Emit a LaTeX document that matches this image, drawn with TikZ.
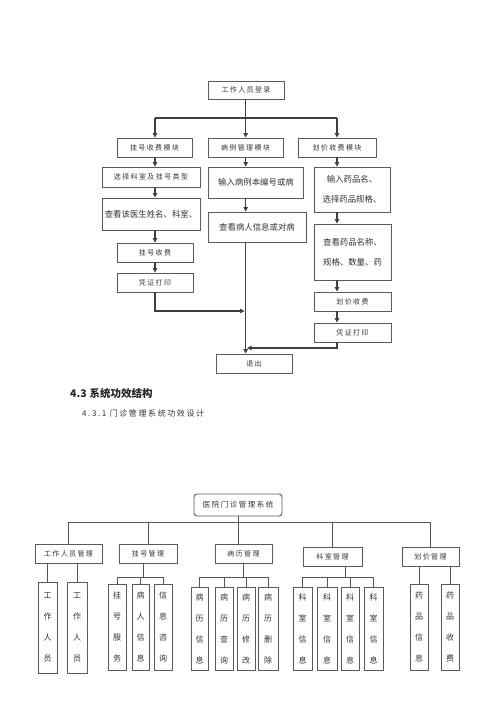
\documentclass[tikz,border=0pt]{standalone}
\usepackage{fontspec}
\setmainfont{Liberation Serif}
\newfontfamily\cjk{Noto Sans CJK SC}
\newfontfamily\cjksp[LetterSpace=20]{Noto Sans CJK SC}
\usetikzlibrary{arrows.meta}
\definecolor{txtc}{HTML}{333333}
\definecolor{boxc}{HTML}{5A5A5A}
\definecolor{linec}{HTML}{404040}
\definecolor{linecb}{HTML}{555555}
\begin{document}
\begin{tikzpicture}[x=1pt,y=-1pt,
  bx/.style={draw=boxc, line width=0.9pt, inner sep=0pt, text=txtc},
  sz/.style 2 args={minimum width=#1pt, minimum height=#2pt},
  sm/.style={font=\cjksp\fontsize{7}{9}\selectfont},
  bg/.style={font=\cjk\fontsize{8.4}{20}\selectfont, align=center},
  vt/.style={font=\cjk\fontsize{8}{21}\selectfont, align=center},
  arr/.style={draw=linec, line width=1.2pt, -{Triangle[length=4.5pt,width=4.5pt]}},
  tl/.style={draw=linec, line width=1.2pt},
  lnb/.style={draw=linecb, line width=0.8pt}]
\fill[white] (0,0) rectangle (500,707);
\useasboundingbox (0,0) rectangle (500,707);

% ---------- top flowchart ----------
\node[bx,sm,sz={76}{18}] (login) at (246,90) {工作人员登录};
\node[bx,sm,sz={75}{19}] (m1) at (154.5,147.5) {挂号收费模块};
\node[bx,sm,sz={75}{19}] (m2) at (245.5,147.5) {病例管理模块};
\node[bx,sm,sz={78}{19}] (m3) at (337,147.5) {划价收费模块};
\node[bx,sm,sz={98}{20}] (l1) at (151,177) {选择科室及挂号类型};
\node[bx,bg,sz={98}{32}] (l2) at (151,214) {查看该医生姓名、科室、};
\node[bx,sm,sz={76}{19}] (l3) at (155,252.5) {挂号收费};
\node[bx,sm,sz={76}{19}] (l4) at (155,282.5) {凭证打印};
\node[bx,bg,sz={95}{31}] (c1) at (256,182.5) {输入病例本编号或病};
\node[bx,bg,sz={98}{30}] (c2) at (257,227) {查看病人信息或对病};
\node[bx,bg,sz={76}{45}] (r1) at (352,189.5) {输入药品名、\\选择药品规格、};
\node[bx,bg,sz={77}{56}] (r2) at (352.5,252) {查看药品名称、\\规格、数量、药};
\node[bx,sm,sz={77}{19}] (r3) at (352.5,301.5) {划价收费};
\node[bx,sm,sz={77}{19}] (r4) at (352.5,332.5) {凭证打印};
\node[bx,sm,sz={76}{19}] (ex) at (254,363.5) {退出};

\coordinate (colL) at (155,0);
\coordinate (colC) at (245.7,0);
\coordinate (colR) at (337,0);
\coordinate (jt) at (245.7,118);
\coordinate (jl) at (244.5,311);
\coordinate (jr) at (247,348);

\draw[tl] (login.south -| colC) -- (jt);
\draw[tl] (jt -| colL) -- (jt -| colR);
\draw[arr] (jt -| colL) -- (m1.north -| colL);
\draw[arr] (jt) -- (m2.north -| colC);
\draw[arr] (jt -| colR) -- (m3.north -| colR);
\draw[arr] (m1.south -| colL) -- (l1.north -| colL);
\draw[arr] (l1.south -| colL) -- (l2.north -| colL);
\draw[arr] (l2.south -| colL) -- (l3.north -| colL);
\draw[arr] (l3.south -| colL) -- (l4.north -| colL);
\draw[arr] (m2.south -| colC) -- (c1.north -| colC);
\draw[arr] (c1.south -| colC) -- (c2.north -| colC);
\draw[arr] (m3.south -| colR) -- (r1.north -| colR);
\draw[arr] (r1.south -| colR) -- (r2.north -| colR);
\draw[arr] (r2.south -| colR) -- (r3.north -| colR);
\draw[arr] (r3.south -| colR) -- (r4.north -| colR);
\draw[arr] (l4.south -| colL) |- (jl);
\draw[arr] (c2.south -| colC) -- (ex.north -| colC);
\draw[arr] (r4.south -| colR) |- (jr);

% ---------- headings ----------
\node[anchor=west, inner sep=0pt, text=black!85, font=\cjk\bfseries\fontsize{10.5}{12}\selectfont] (sec) at (70,393) {4.3\hspace{3pt}系统功效结构};
\node[anchor=west, inner sep=0pt, text=txtc, font=\cjksp\fontsize{8}{10}\selectfont] (sub) at (82,413) {4.3.1 门诊管理系统功效设计};

% ---------- lower tree ----------
\node[bx, rounded corners=3pt, font=\cjksp\fontsize{7.5}{9}\selectfont, sz={88}{22}] (root) at (238,505) {医院门诊管理系统};
\node[bx,sm,sz={67}{19}] (g1) at (68.5,553.5) {工作人员管理};
\node[bx,sm,sz={58}{19}] (g2) at (148,553.5) {挂号管理};
\node[bx,sm,sz={57}{19}] (g3) at (243.5,553.5) {病历管理};
\node[bx,sm,sz={59}{19}] (g4) at (332.5,556.5) {科室管理};
\node[bx,sm,sz={57}{19}] (g5) at (430.5,556.5) {划价管理};

\node[bx,vt,sz={19}{91}] (w1) at (47.5,627.5) {工\\作\\人\\员};
\node[bx,vt,sz={20}{91}] (w2) at (77,627.5) {工\\作\\人\\员};
\node[bx,vt,sz={18}{86}] (h1) at (117,627) {挂\\号\\服\\务};
\node[bx,vt,sz={17}{86}] (h2) at (140.5,627) {病\\人\\信\\息};
\node[bx,vt,sz={18}{86}] (h3) at (163,627) {信\\息\\咨\\询};
\node[bx,vt,sz={17}{83}] (b1) at (199.5,628.5) {病\\历\\信\\息};
\node[bx,vt,sz={18}{83}] (b2) at (224,628.5) {病\\历\\查\\询};
\node[bx,vt,sz={18}{83}] (b3) at (246,628.5) {病\\历\\修\\改};
\node[bx,vt,sz={20}{83}] (b4) at (268,628.5) {病\\历\\删\\除};
\node[bx,vt,sz={19}{83}] (k1) at (302.5,628.5) {科\\室\\信\\息};
\node[bx,vt,sz={20}{83}] (k2) at (327,628.5) {科\\室\\信\\息};
\node[bx,vt,sz={18}{83}] (k3) at (350,628.5) {科\\室\\信\\息};
\node[bx,vt,sz={19}{83}] (k4) at (373.5,628.5) {科\\室\\信\\息};
\node[bx,vt,sz={18}{86}] (y1) at (419,627) {药\\品\\信\\息};
\node[bx,vt,sz={18}{86}] (y2) at (450,627) {药\\品\\收\\费};

\coordinate (hz) at (0,522);
\coordinate (jy) at (0,577);
\coordinate (j2) at (143,577);
\coordinate (j4) at (345,577);

\draw[lnb] (root.south) -- (hz -| root.south);
\draw[lnb] (hz -| g1.north) -- (hz -| g5.north);
\draw[lnb] (hz -| g1.north) -- (g1.north);
\draw[lnb] (hz -| g2.north) -- (g2.north);
\draw[lnb] (hz -| root.south) -- (g3.north -| root.south);
\draw[lnb] (hz -| g4.north) -- (g4.north);
\draw[lnb] (hz -| g5.north) -- (g5.north);

\draw[lnb] (g1.south -| w1.north) -- (w1.north);
\draw[lnb] (g1.south -| w2.north) -- (w2.north);

\draw[lnb] (g2.south -| j2) -- (j2);
\draw[lnb] (jy -| h1.north) -- (jy -| h3.north);
\foreach \n in {h1,h2,h3} \draw[lnb] (jy -| \n.north) -- (\n.north);

\draw[lnb] (g3.south) -- (jy -| g3.south);
\draw[lnb] (jy -| b1.north) -- (jy -| b4.north);
\foreach \n in {b1,b2,b3,b4} \draw[lnb] (jy -| \n.north) -- (\n.north);

\draw[lnb] (g4.south -| j4) -- (j4);
\draw[lnb] (jy -| k1.north) -- (jy -| k4.north);
\foreach \n in {k1,k2,k3,k4} \draw[lnb] (jy -| \n.north) -- (\n.north);

\draw[lnb] (g5.south -| y1.north) -- (y1.north);
\draw[lnb] (g5.south -| y2.north) -- (y2.north);
\end{tikzpicture}
\end{document}
